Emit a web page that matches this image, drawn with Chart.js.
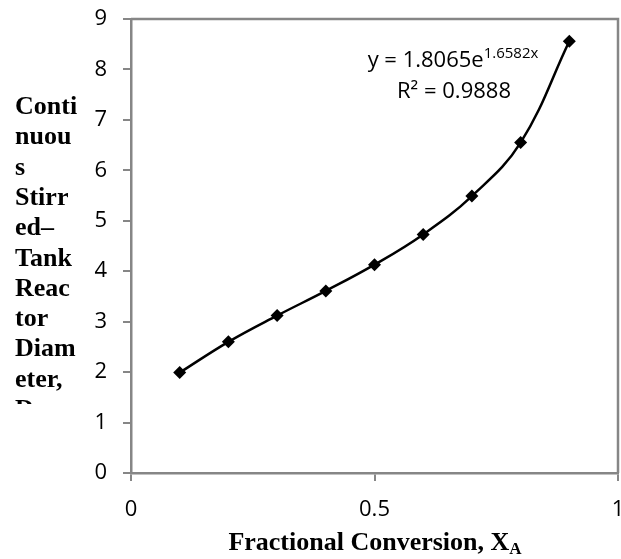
<!DOCTYPE html>
<html>
<head>
<meta charset="utf-8">
<script src="https://cdn.jsdelivr.net/npm/chart.js@4"></script>
<style>
html,body{margin:0;padding:0;background:#fff}
#wrap{width:621px;height:559px}
</style>
</head>
<body>
<div id="wrap"><canvas id="cstrChart" width="621" height="559"></canvas></div>
<script>

// DATA

const conversion = [0.1, 0.2, 0.3, 0.4, 0.5, 0.6, 0.7, 0.8, 0.9]
const diameter = [1.99, 2.60, 3.12, 3.61, 4.13, 4.73, 5.49, 6.55, 8.56]

const xTickValues = [0, 0.5, 1]
const xTickLabels = ["0", "0.5", "1"]
const yTickLabels = ["0","1","2","3","4","5","6","7","8","9"]

const xTitle = "Fractional Conversion, X"
const xTitleSub = "A"
const yTitleLines = ["Conti","nuou","s","Stirr","ed\u2013","Tank","Reac","tor","Diam","eter,","D"]
const eqMain = "y = 1.8065e"
const eqSup = "1.6582x"
const eqR2 = "R\u00b2 = 0.9888"

const axisGray = '#868686'
const tickFont = {family:'"Open Sans"', size:22}


// EXTRA DRAWING (frame, titles, trendline label)

const extras = {
id:'extras',
beforeDatasetsDraw(chart){
const a = chart.chartArea
const ctx = chart.ctx
ctx.save()
ctx.strokeStyle = axisGray
ctx.lineWidth = 2.5
ctx.beginPath()
ctx.moveTo(a.left, a.top)
ctx.lineTo(a.right, a.top)
ctx.lineTo(a.right, a.bottom)
ctx.stroke()
ctx.restore()
},
afterDraw(chart){
const ctx = chart.ctx
ctx.save()
ctx.fillStyle = '#000'

// y title, wrapped and cut off like in the original
ctx.save()
ctx.beginPath()
ctx.rect(0,0,125,404)
ctx.clip()
ctx.font = 'bold 26px "Liberation Serif"'
ctx.textAlign = 'left'
ctx.textBaseline = 'alphabetic'
yTitleLines.forEach((t,i)=>{
ctx.fillText(t, 15, 114 + i*30.3)
})
ctx.restore()

// x title with subscript
ctx.textBaseline = 'alphabetic'
ctx.textAlign = 'left'
ctx.font = 'bold 26px "Liberation Serif"'
const w1 = ctx.measureText(xTitle).width
ctx.font = 'bold 17px "Liberation Serif"'
const w2 = ctx.measureText(xTitleSub).width
let x0 = 375 - (w1+w2)/2
ctx.font = 'bold 26px "Liberation Serif"'
ctx.fillText(xTitle, x0, 550)
ctx.font = 'bold 17px "Liberation Serif"'
ctx.fillText(xTitleSub, x0 + w1, 554)

// equation
ctx.font = '22px "Open Sans"'
const e1 = ctx.measureText(eqMain).width
ctx.font = '15px "Open Sans"'
const e2 = ctx.measureText(eqSup).width
let ex = 453 - (e1+e2)/2
ctx.font = '22px "Open Sans"'
ctx.fillText(eqMain, ex, 67)
ctx.font = '15px "Open Sans"'
ctx.fillText(eqSup, ex + e1, 57.5)
ctx.font = '22px "Open Sans"'
ctx.textAlign = 'center'
ctx.fillText(eqR2, 454, 97.5)

ctx.restore()
}
}


// CHART

const ctx = document.getElementById('cstrChart')

const cstrChart = new Chart(ctx,{
type:'scatter',
data:{
datasets:[{
label:'Diameter',
data:conversion.map((x,i)=>({x:x, y:diameter[i]})),
showLine:true,
borderColor:'#000',
borderWidth:2.5,
tension:0.4,
pointStyle:'rectRot',
pointRadius:6.5,
pointBackgroundColor:'#000',
pointBorderColor:'#000',
pointBorderWidth:0
}]
},
options:{
responsive:false,
animation:false,
layout:{autoPadding:false, padding:{top:19, right:3, left:0, bottom:0}},
plugins:{
legend:{display:false},
tooltip:{enabled:false}
},
scales:{
x:{
type:'linear',
min:0,
max:1,
afterBuildTicks(s){ s.ticks = xTickValues.map(v=>({value:v})) },
afterFit(s){ s.height = 86; s.paddingLeft = 0; s.paddingRight = 0 },
ticks:{color:'#000', font:tickFont, padding:16, maxRotation:0,
callback:(v,i)=>xTickLabels[i]},
grid:{drawOnChartArea:false, drawTicks:true, tickLength:8, color:axisGray, lineWidth:2},
border:{display:true, color:axisGray, width:2.5}
},
y:{
type:'linear',
min:0,
max:9,
afterFit(s){ s.width = 131; s.paddingTop = 0; s.paddingBottom = 0 },
ticks:{stepSize:1, color:'#000', font:tickFont, padding:16,
callback:(v,i)=>yTickLabels[i]},
grid:{drawOnChartArea:false, drawTicks:true, tickLength:8, color:axisGray, lineWidth:2},
border:{display:true, color:axisGray, width:2.5}
}
}
},
plugins:[extras]
})

</script>
</body>
</html>
